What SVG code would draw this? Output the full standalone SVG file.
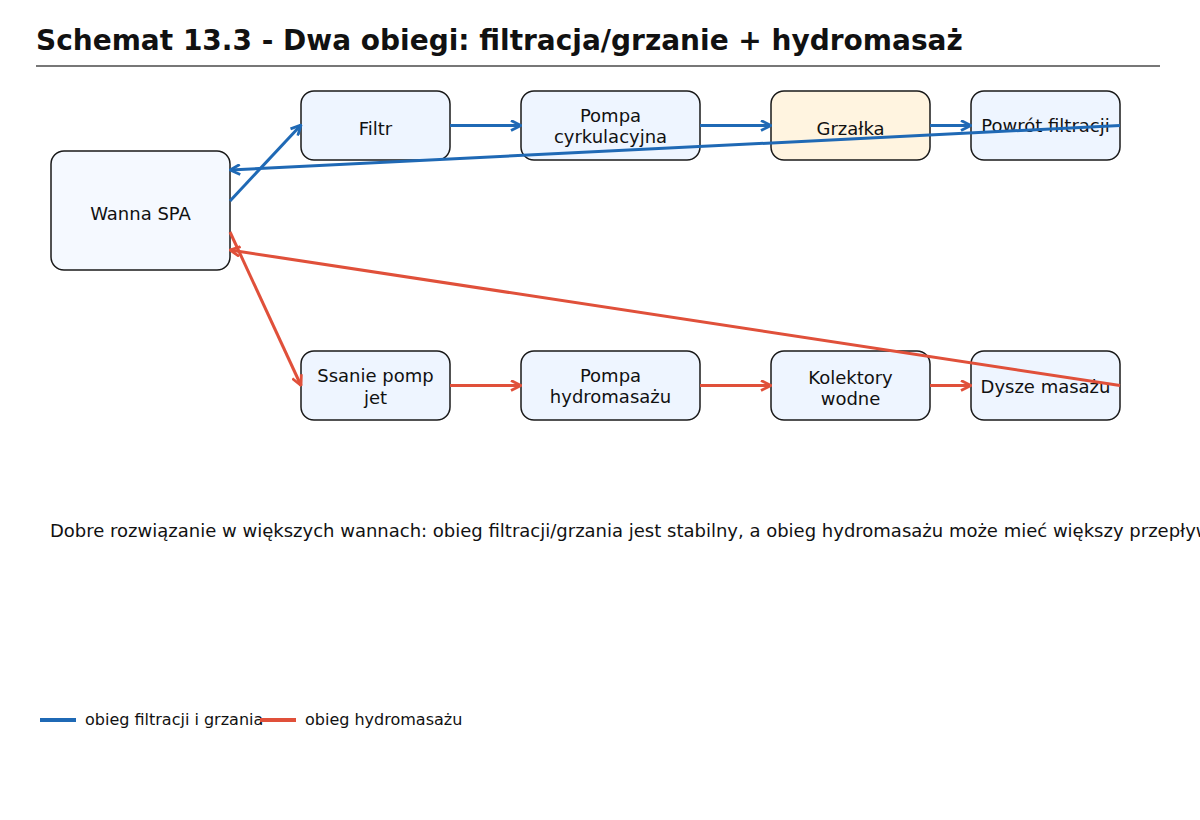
<svg xmlns="http://www.w3.org/2000/svg" width="1200" height="820" viewBox="0 0 1200 820">
<defs>
<style>
text{font-family:"DejaVu Sans","Liberation Sans",sans-serif;fill:#111}
.title{font-size:28px;font-weight:bold}
.node rect{stroke:#1a1a1a;stroke-width:1.5;fill:#eef5ff}
.node text{font-size:18px;text-anchor:middle}
.blue{stroke:#1f69b5;stroke-width:3;fill:none}
.red{stroke:#e0503a;stroke-width:3;fill:none}
.body{font-size:18px}
.leg{font-size:16px}
</style>
<marker id="ab" viewBox="0 0 12 12" refX="11" refY="6" markerWidth="12" markerHeight="12" markerUnits="userSpaceOnUse" orient="auto">
<path d="M1,1 L11,6 L1,11" fill="none" stroke="#1f69b5" stroke-width="2.8"/>
</marker>
<marker id="ar" viewBox="0 0 12 12" refX="11" refY="6" markerWidth="12" markerHeight="12" markerUnits="userSpaceOnUse" orient="auto">
<path d="M1,1 L11,6 L1,11" fill="none" stroke="#e0503a" stroke-width="2.8"/>
</marker>
</defs>
<rect width="1200" height="820" fill="#fff"/>
<text class="title" x="36" y="50">Schemat 13.3 - Dwa obiegi: filtracja/grzanie + hydromasaż</text>
<line x1="36" y1="66" x2="1160" y2="66" stroke="#777" stroke-width="2"/>

<g id="n-wanna" class="node"><rect x="51" y="151" width="179" height="119" rx="13" style="fill:#f5f9ff"/><text x="140.5" y="220">Wanna SPA</text></g>
<g id="n-filtr" class="node"><rect x="301" y="91" width="149" height="69" rx="13"/><text x="375.5" y="135">Filtr</text></g>
<g id="n-pompa-c" class="node"><rect x="521" y="91" width="179" height="69" rx="13"/><text x="610.5" y="122">Pompa</text><text x="610.5" y="143">cyrkulacyjna</text></g>
<g id="n-grzalka" class="node"><rect x="771" y="91" width="159" height="69" rx="13" style="fill:#fff4e0"/><text x="850.5" y="135">Grzałka</text></g>
<g id="n-powrot" class="node"><rect x="971" y="91" width="149" height="69" rx="13"/><text x="1045.5" y="132">Powrót filtracji</text></g>
<g id="n-ssanie" class="node"><rect x="301" y="351" width="149" height="69" rx="13"/><text x="375.5" y="382">Ssanie pomp</text><text x="375.5" y="404">jet</text></g>
<g id="n-pompa-h" class="node"><rect x="521" y="351" width="179" height="69" rx="13"/><text x="610.5" y="382">Pompa</text><text x="610.5" y="403">hydromasażu</text></g>
<g id="n-kolektory" class="node"><rect x="771" y="351" width="159" height="69" rx="13"/><text x="850.5" y="384">Kolektory</text><text x="850.5" y="405">wodne</text></g>
<g id="n-dysze" class="node"><rect x="971" y="351" width="149" height="69" rx="13"/><text x="1045.5" y="393">Dysze masażu</text></g>

<g id="connectors">
<line class="blue" x1="230" y1="201" x2="301" y2="125" marker-end="url(#ab)"/>
<line class="blue" x1="450" y1="125.5" x2="521" y2="125.5" marker-end="url(#ab)"/>
<line class="blue" x1="700" y1="125.5" x2="771" y2="125.5" marker-end="url(#ab)"/>
<line class="blue" x1="930" y1="125.5" x2="971" y2="125.5" marker-end="url(#ab)"/>
<line class="blue" x1="1120" y1="125.5" x2="230" y2="170" marker-end="url(#ab)"/>
<line class="red" x1="230" y1="232" x2="301" y2="385.5" marker-end="url(#ar)"/>
<line class="red" x1="450" y1="385.5" x2="521" y2="385.5" marker-end="url(#ar)"/>
<line class="red" x1="700" y1="385.5" x2="771" y2="385.5" marker-end="url(#ar)"/>
<line class="red" x1="930" y1="385.5" x2="971" y2="385.5" marker-end="url(#ar)"/>
<line class="red" x1="1120" y1="385.5" x2="230" y2="250" marker-end="url(#ar)"/>
</g>

<text class="body" x="50" y="537">Dobre rozwiązanie w większych wannach: obieg filtracji/grzania jest stabilny, a obieg hydromasażu może mieć większy przepływ.</text>

<g id="legend">
<line x1="40" y1="720" x2="76" y2="720" stroke="#1f69b5" stroke-width="4"/>
<text class="leg" x="85" y="725">obieg filtracji i grzania</text>
<line x1="260" y1="720" x2="296" y2="720" stroke="#e0503a" stroke-width="4"/>
<text class="leg" x="305" y="725">obieg hydromasażu</text>
</g>
</svg>
